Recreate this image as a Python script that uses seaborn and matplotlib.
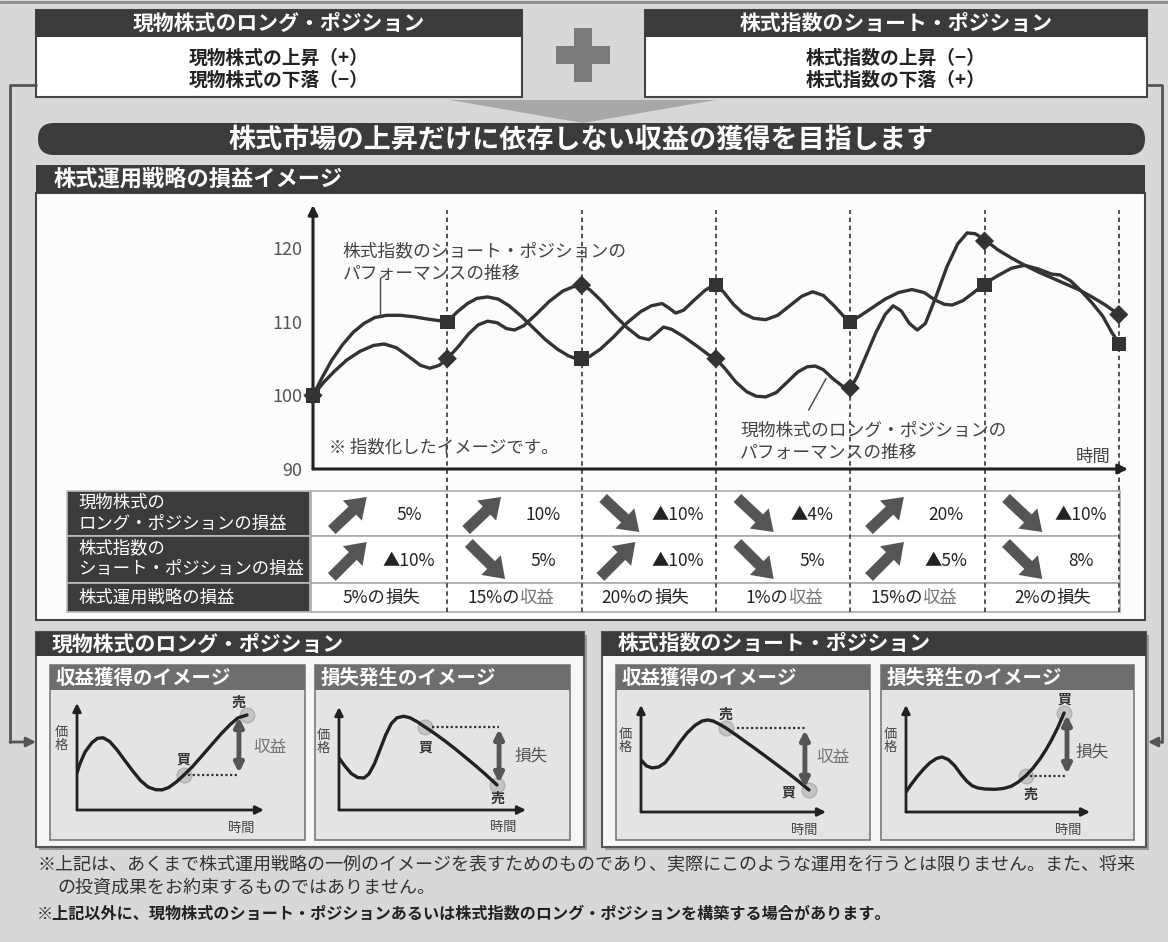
import seaborn as sns
import matplotlib.pyplot as plt
from matplotlib.patches import Rectangle, FancyBboxPatch, Polygon

sns.set_theme(style="white")
plt.rcParams['font.family'] = ['Noto Sans CJK JP', 'DejaVu Sans']

W, H = 1168, 942

# main chart: period markers (index levels)
times = [0, 1, 2, 3, 4, 5, 6]
long_marks = [100, 105, 115, 105, 101, 121, 111]
short_marks = [100, 110, 105, 115, 110, 115, 107]

# main chart: curve
long_t = [0, 0.08, 0.16, 0.25, 0.35, 0.45, 0.53, 0.62, 0.72, 0.8, 0.87, 0.94, 1.0,
          1.08, 1.16, 1.23, 1.3, 1.37, 1.44, 1.5, 1.57, 1.66, 1.76, 1.86, 1.94, 2.0,
          2.06, 2.14, 2.24, 2.34, 2.43, 2.5, 2.56, 2.61, 2.67, 2.76, 2.86, 2.94, 3.0,
          3.07, 3.15, 3.23, 3.3, 3.37, 3.45, 3.53, 3.61, 3.68, 3.74, 3.8, 3.87, 3.94, 4.0,
          4.05, 4.12, 4.19, 4.26, 4.32, 4.38, 4.44, 4.5, 4.56, 4.64, 4.72, 4.8, 4.87, 4.93, 5.0,
          5.1, 5.2, 5.3, 5.4, 5.5, 5.6, 5.7, 5.8, 5.9, 6.0]
long_v = [100, 101.8, 103.3, 104.8, 106.0, 106.8, 107.0, 106.5, 105.2, 104.1, 103.7, 104.1, 105,
          106.6, 108.4, 109.6, 110.1, 109.9, 109.1, 108.9, 109.5, 111.0, 112.8, 114.2, 114.8, 115,
          114.4, 113.0, 111.0, 109.2, 107.9, 107.6, 108.5, 109.3, 109.0, 108.0, 106.7, 105.6, 105,
          103.6, 101.8, 100.5, 99.9, 99.8, 100.4, 101.8, 103.2, 103.9, 104.0, 103.5, 102.3, 101.3, 101,
          102.5, 105.5, 108.5, 111.0, 112.2, 111.5, 109.8, 108.9, 109.8, 113.5, 117.5, 120.6, 122.1, 122.0, 121.2,
          119.8, 118.7, 117.7, 116.8, 116.0, 115.2, 114.4, 113.4, 112.3, 111]
short_t = [0, 0.07, 0.14, 0.22, 0.3, 0.38, 0.46, 0.55, 0.65, 0.75, 0.85, 0.93, 1.0,
           1.07, 1.15, 1.22, 1.3, 1.38, 1.46, 1.55, 1.64, 1.73, 1.82, 1.9, 1.96, 2.0,
           2.06, 2.14, 2.24, 2.34, 2.44, 2.52, 2.6, 2.65, 2.7, 2.76, 2.84, 2.92, 3.0,
           3.06, 3.13, 3.2, 3.28, 3.37, 3.46, 3.55, 3.64, 3.72, 3.8, 3.88, 3.95, 4.0,
           4.08, 4.17, 4.26, 4.36, 4.46, 4.55, 4.63, 4.7, 4.76, 4.84, 4.92, 5.0,
           5.1, 5.2, 5.3, 5.4, 5.5, 5.56, 5.64, 5.72, 5.8, 5.88, 5.95, 6.0]
short_v = [100, 102.5, 104.8, 106.9, 108.6, 109.8, 110.6, 110.9, 110.9, 110.7, 110.4, 110.2, 110,
           111.3, 112.5, 113.2, 113.4, 113.1, 112.2, 110.8, 109.2, 107.6, 106.3, 105.4, 105.0, 105,
           105.3, 106.3, 108.0, 109.9, 111.4, 112.2, 112.5, 111.9, 111.2, 111.6, 113.0, 114.3, 115.2,
           114.0, 112.4, 111.2, 110.5, 110.3, 110.9, 112.2, 113.5, 114.1, 113.6, 112.2, 110.8, 110,
           110.9, 112.0, 113.1, 114.0, 114.4, 114.0, 113.0, 112.4, 112.3, 112.9, 114.0, 115.2,
           116.3, 117.3, 117.7, 117.2, 116.5, 116.4, 115.6, 114.2, 112.6, 110.8, 108.5, 107.2]

# table
row_labels = [['現物株式の', 'ロング・ポジションの損益'], ['株式指数の', 'ショート・ポジションの損益'], ['株式運用戦略の損益']]
long_dir = ['up', 'up', 'down', 'down', 'up', 'down']
long_pl = ['5%', '10%', '▲10%', '▲4%', '20%', '▲10%']
short_dir = ['up', 'down', 'up', 'down', 'up', 'down']
short_pl = ['▲10%', '5%', '▲10%', '5%', '▲5%', '8%']
total_pct = ['5%の', '15%の', '20%の', '1%の', '15%の', '2%の']
total_word = ['損失', '収益', '損失', '収益', '収益', '損失']

# small illustration curves (time, price)
m1_t = [0, 0.15, 0.43, 0.8, 1.1, 1.4, 1.75, 2.15, 2.57, 3.0, 3.4, 3.8, 4.2, 4.55, 4.9, 5.3, 5.72,
        6.2, 6.7, 7.2, 7.7, 8.2, 8.6, 9.09]
m1_v = [3.46, 4.3, 5.42, 6.3, 6.7, 6.75, 6.4, 5.6, 4.6, 3.6, 2.75, 2.15, 1.9, 1.88, 2.1, 2.6, 3.27,
        4.1, 5.1, 6.1, 7.1, 8.0, 8.6, 8.88]
m2_t = [0, 0.3, 0.65, 1.0, 1.34, 1.6, 1.9, 2.2, 2.5, 2.8, 3.1, 3.45, 3.8, 4.2, 4.6, 5.1, 5.67,
        6.2, 6.74, 7.3, 7.81, 8.45]
m2_v = [5.05, 4.3, 3.55, 3.15, 3.11, 3.5, 4.5, 5.9, 7.3, 8.4, 8.95, 9.1, 8.95, 8.55, 8.06, 7.45, 6.7,
        5.95, 5.15, 4.3, 3.5, 2.43]
m3_t = [0, 0.3, 0.6, 0.95, 1.3, 1.7, 2.11, 2.5, 2.92, 3.3, 3.6, 3.9, 4.25, 4.59, 5.1, 5.62, 6.15,
        6.7, 7.4, 8.05, 8.6, 9.08]
m3_v = [4.86, 4.3, 4.12, 4.2, 4.6, 5.5, 6.54, 7.4, 8.1, 8.5, 8.6, 8.5, 8.2, 7.85, 7.25, 6.6, 5.95,
        5.25, 4.35, 3.5, 2.75, 2.06]
m4_t = [0, 0.25, 0.6, 0.95, 1.3, 1.65, 1.96, 2.3, 2.66, 3.0, 3.32, 3.6, 3.9, 4.3, 4.84, 5.3, 5.71,
        6.1, 6.52, 6.9, 7.28, 7.6, 7.93, 8.25, 8.59]
m4_v = [1.87, 2.5, 3.3, 4.0, 4.6, 5.0, 5.14, 4.9, 4.3, 3.5, 2.85, 2.45, 2.25, 2.15, 2.12, 2.2, 2.4,
        2.8, 3.4, 4.1, 4.95, 5.8, 6.8, 7.9, 9.25]

DARK = '#3b3b3b'
LINE = '#333333'

fig = plt.figure(figsize=(W / 100, H / 100), dpi=100)
fig.patch.set_facecolor('#d8d8d8')
bg = fig.add_axes([0, 0, 1, 1])
bg.set_xlim(0, W)
bg.set_ylim(H, 0)
bg.axis('off')


def rect(x0, y0, x1, y1, fc, ec='none', lw=0, z=1):
    bg.add_patch(Rectangle((x0, y0), x1 - x0, y1 - y0, fc=fc, ec=ec, lw=lw, zorder=z))


def txt(x, y, s, size, color='#333333', weight='normal', ha='center', va='center', ax=None, **kw):
    (ax or bg).text(x, y, s, fontsize=size, color=color, fontweight=weight, ha=ha, va=va, **kw)


def sub_ax(x0, y0, x1, y1):
    a = fig.add_axes([x0 / W, 1 - y1 / H, (x1 - x0) / W, (y1 - y0) / H])
    a.patch.set_alpha(0)
    return a


bg.plot([0, W], [2, 2], color='#8a8a8a', lw=2)

# top boxes
for x0, x1, head, l1, l2 in [(36, 522, '現物株式のロング・ポジション', '現物株式の上昇（+）', '現物株式の下落（−）'),
                             (645, 1147, '株式指数のショート・ポジション', '株式指数の上昇（−）', '株式指数の下落（+）')]:
    rect(x0, 10, x1, 97, 'white', ec='#444444', lw=1.5)
    rect(x0, 10, x1, 37, DARK)
    cx = (x0 + x1) / 2
    txt(cx, 23.5, head, 15, 'white', 'bold')
    txt(cx, 58, l1, 13.5, '#222222', 'bold')
    txt(cx, 80, l2, 13.5, '#222222', 'bold')

# plus sign and funnel
rect(574, 28, 592, 82, '#7b7b7b')
rect(556, 46, 610, 64, '#7b7b7b')
bg.add_patch(Polygon([(450, 100), (716, 100), (583, 123)], fc='#a8a8a8', ec='none'))

# connectors
bg.plot([36, 10, 10], [85, 85, 742], color='#555555', lw=2)
bg.plot([1147, 1162, 1162], [85, 85, 742], color='#555555', lw=2)
bg.annotate('', xy=(36, 742), xytext=(10, 742),
            arrowprops=dict(arrowstyle='-|>', color='#555555', lw=2, mutation_scale=14, shrinkA=0, shrinkB=0))
bg.annotate('', xy=(1148, 742), xytext=(1162, 742),
            arrowprops=dict(arrowstyle='-|>', color='#555555', lw=2, mutation_scale=14, shrinkA=0, shrinkB=0))

# banner
bg.add_patch(FancyBboxPatch((38, 123), 1107, 32, boxstyle='round,pad=0,rounding_size=16', fc=DARK, ec='none'))
txt(581, 139.5, '株式市場の上昇だけに依存しない収益の獲得を目指します', 19.5, 'white', 'bold')

# main panel
rect(36, 193, 1145, 620, '#fcfcfc', ec='#444444', lw=1.5)
rect(36, 165, 1145, 193, DARK)
txt(54, 179, '株式運用戦略の損益イメージ', 16, 'white', 'bold', ha='left')

# table frame
for y0, y1 in [(491, 536), (536, 583), (583, 612)]:
    rect(67, y0, 310, y1, DARK, ec='#bbbbbb', lw=1.2)
    rect(311, y0, 1120, y1, 'white', ec='#aaaaaa', lw=1.2)
txt(78, 503, row_labels[0][0], 12.5, 'white', ha='left')
txt(78, 524, row_labels[0][1], 12.5, 'white', ha='left')
txt(78, 548, row_labels[1][0], 12.5, 'white', ha='left')
txt(78, 569, row_labels[1][1], 12.5, 'white', ha='left')
txt(78, 598, row_labels[2][0], 12.5, 'white', ha='left')

# main chart
axc = sub_ax(313, 205, 1128, 469)
axc.set_xlim(0, 815 / 134.3)
axc.set_ylim(90, 125.9)
for s in axc.spines.values():
    s.set_visible(False)
axc.set_xticks([])
axc.set_yticks([90, 100, 110, 120])
axc.tick_params(axis='y', length=0, pad=8, labelsize=13, labelcolor='#555555')
axc.vlines(times[1:], 70.5, 125.2, colors='#444444', linestyles=(0, (2.5, 2)), lw=1.3, clip_on=False)
for xy in [(0, 1), (1, 0)]:
    axc.annotate('', xy=xy, xytext=(0, 0), xycoords='axes fraction', textcoords='axes fraction',
                 arrowprops=dict(arrowstyle='-|>', lw=2.2, color='#222222', mutation_scale=14, shrinkA=0, shrinkB=0))
sns.lineplot(x=short_t, y=short_v, ax=axc, color=LINE, lw=2.4, sort=False, estimator=None)
sns.lineplot(x=long_t, y=long_v, ax=axc, color=LINE, lw=2.4, sort=False, estimator=None)
sns.scatterplot(x=times, y=short_marks, ax=axc, marker='s', s=110, color=LINE, edgecolor='none', zorder=5, clip_on=False)
sns.scatterplot(x=times, y=long_marks, ax=axc, marker='D', s=95, color=LINE, edgecolor='none', zorder=6, clip_on=False)
axc.set_xlabel('')
axc.set_ylabel('')
axc.text(0.22, 118.1, '株式指数のショート・ポジションの\nパフォーマンスの推移', fontsize=12.8, color='#444444',
         ha='left', va='center', linespacing=1.35)
axc.plot([0.5, 0.5], [116.0, 110.9], color='#444444', lw=1)
axc.text(3.18, 93.7, '現物株式のロング・ポジションの\nパフォーマンスの推移', fontsize=12.8, color='#444444',
         ha='left', va='center', linespacing=1.35)
axc.plot([3.69, 3.82], [98.0, 102.3], color='#444444', lw=1)
axc.text(0.12, 93.0, '※ 指数化したイメージです。', fontsize=12.5, color='#444444', ha='left', va='center')
axc.text(5.94, 91.7, '時間', fontsize=12.5, color='#444444', ha='right', va='center')

# table contents
axt = sub_ax(313, 491, 1128, 612)
axt.set_xlim(0, 815 / 134.3)
axt.set_ylim(612, 491)
axt.axis('off')
arrow_kw = dict(arrowstyle='simple,head_length=0.75,head_width=1.05,tail_width=0.42',
                fc='#555555', ec='none', mutation_scale=19, shrinkA=0, shrinkB=0)
for row, (dirs, pls, y0, y1) in enumerate([(long_dir, long_pl, 491, 536), (short_dir, short_pl, 536, 583)]):
    for i, (d, p) in enumerate(zip(dirs, pls)):
        if d == 'up':
            axt.annotate('', xy=(i + 0.40, y0 + 6), xytext=(i + 0.14, y1 - 6), arrowprops=arrow_kw)
        else:
            axt.annotate('', xy=(i + 0.43, y1 - 4), xytext=(i + 0.16, y0 + 7), arrowprops=arrow_kw)
        axt.text(i + 0.715, (y0 + y1) / 2 + 1, p, fontsize=12.5, color='#222222', ha='center', va='center')
for i, (p, w) in enumerate(zip(total_pct, total_word)):
    axt.text(i + 0.54, 598, p, fontsize=12.5, color='#222222', ha='right', va='center')
    axt.text(i + 0.54, 598, w, fontsize=12.5, color='#777777' if w == '収益' else '#222222',
             ha='left', va='center')

# bottom panels
for x0, x1, head, subs in [(36, 584, '現物株式のロング・ポジション', [(50, 305), (315, 570)]),
                           (602, 1146, '株式指数のショート・ポジション', [(616, 870), (881, 1134)])]:
    rect(x0 + 3, 635, x1 + 3, 850, '#9a9a9a')
    rect(x0, 632, x1, 847, '#f6f6f6', ec='#555555', lw=1.5)
    rect(x0, 632, x1, 656, DARK)
    txt(x0 + 16, 644, head, 15, 'white', 'bold', ha='left')
    for (s0, s1), sub in zip(subs, ['収益獲得のイメージ', '損失発生のイメージ']):
        rect(s0, 665, s1, 840, '#e4e4e4', ec='#7a7a7a', lw=1.2)
        rect(s0, 665, s1, 690, '#6e6e6e')
        txt(s0 + 6, 678, sub, 14, 'white', 'bold', ha='left')


def mini(box, t, v, entry, exit_, dot_x, word, word_xy, buy_xy, sell_xy):
    a = sub_ax(*box)
    a.set_xlim(0, 10)
    a.set_ylim(0, 10)
    a.axis('off')
    for xy in [(0, 1), (1, 0)]:
        a.annotate('', xy=xy, xytext=(0, 0), xycoords='axes fraction', textcoords='axes fraction',
                   arrowprops=dict(arrowstyle='-|>', lw=2.0, color='#222222', mutation_scale=12,
                                   shrinkA=0, shrinkB=0))
    a.scatter([entry[0], exit_[0]], [entry[1], exit_[1]], s=110, color='#c4c4c4', ec='#b0b0b0',
              zorder=1, clip_on=False)
    sns.lineplot(x=t, y=v, ax=a, color='#222222', lw=2.4, sort=False, estimator=None, zorder=3)
    a.set_xlabel('')
    a.set_ylabel('')
    # dotted level of the opening trade, double arrow to the closing price
    a.plot(dot_x, [entry[1], entry[1]], ls=(0, (1, 1.1)), color='#333333', lw=1.6, clip_on=False)
    lo, hi = sorted([entry[1], exit_[1]])
    a.annotate('', xy=(dot_x[1], hi - 0.2), xytext=(dot_x[1], lo + 0.2),
               arrowprops=dict(arrowstyle='<|-|>', color='#555555', lw=3.5, mutation_scale=13,
                               shrinkA=0, shrinkB=0))
    a.text(word_xy[0], word_xy[1], word, fontsize=12, color='#777777' if word == '収益' else '#555555',
           ha='center', va='center', clip_on=False)
    a.text(buy_xy[0], buy_xy[1], '買', fontsize=10, color='#333333', fontweight='bold', ha='center', va='center')
    a.text(sell_xy[0], sell_xy[1], '売', fontsize=10, color='#333333', fontweight='bold', ha='center', va='center')
    a.text(-0.85, 6.6, '価\n格', fontsize=9.5, color='#444444', ha='center', va='center', linespacing=1.0)
    a.text(8.8, -1.7, '時間', fontsize=9.5, color='#444444', ha='center', va='center')


mini((77, 703, 264, 810), m1_t, m1_v, (5.72, 3.27), (9.09, 8.88), [5.94, 8.66], '収益',
     (10.3, 5.8), (5.67, 4.67), (8.66, 10.0))
mini((339, 707, 526, 810), m2_t, m2_v, (4.6, 8.06), (8.45, 2.43), [4.97, 8.56], '損失',
     (10.3, 5.3), (4.6, 6.1), (8.45, 1.1))
mini((641, 705, 826, 812), m3_t, m3_v, (4.59, 7.85), (9.08, 2.06), [5.19, 8.86], '収益',
     (10.4, 5.1), (7.95, 1.8), (4.59, 9.1))
mini((906, 705, 1090, 812), m4_t, m4_v, (6.52, 3.36), (8.59, 9.25), [6.74, 8.75], '損失',
     (10.1, 5.6), (8.59, 10.5), (6.74, 1.6))

# footnotes
txt(37, 864, '※上記は、あくまで株式運用戦略の一例のイメージを表すためのものであり、実際にこのような運用を行うとは限りません。また、将来',
    13.0, '#333333', ha='left')
txt(57, 888, 'の投資成果をお約束するものではありません。', 13.0, '#333333', ha='left')
txt(37, 914, '※上記以外に、現物株式のショート・ポジションあるいは株式指数のロング・ポジションを構築する場合があります。',
    11.6, '#222222', 'bold', ha='left')

fig.savefig('out.png', dpi=100, facecolor=fig.get_facecolor())
